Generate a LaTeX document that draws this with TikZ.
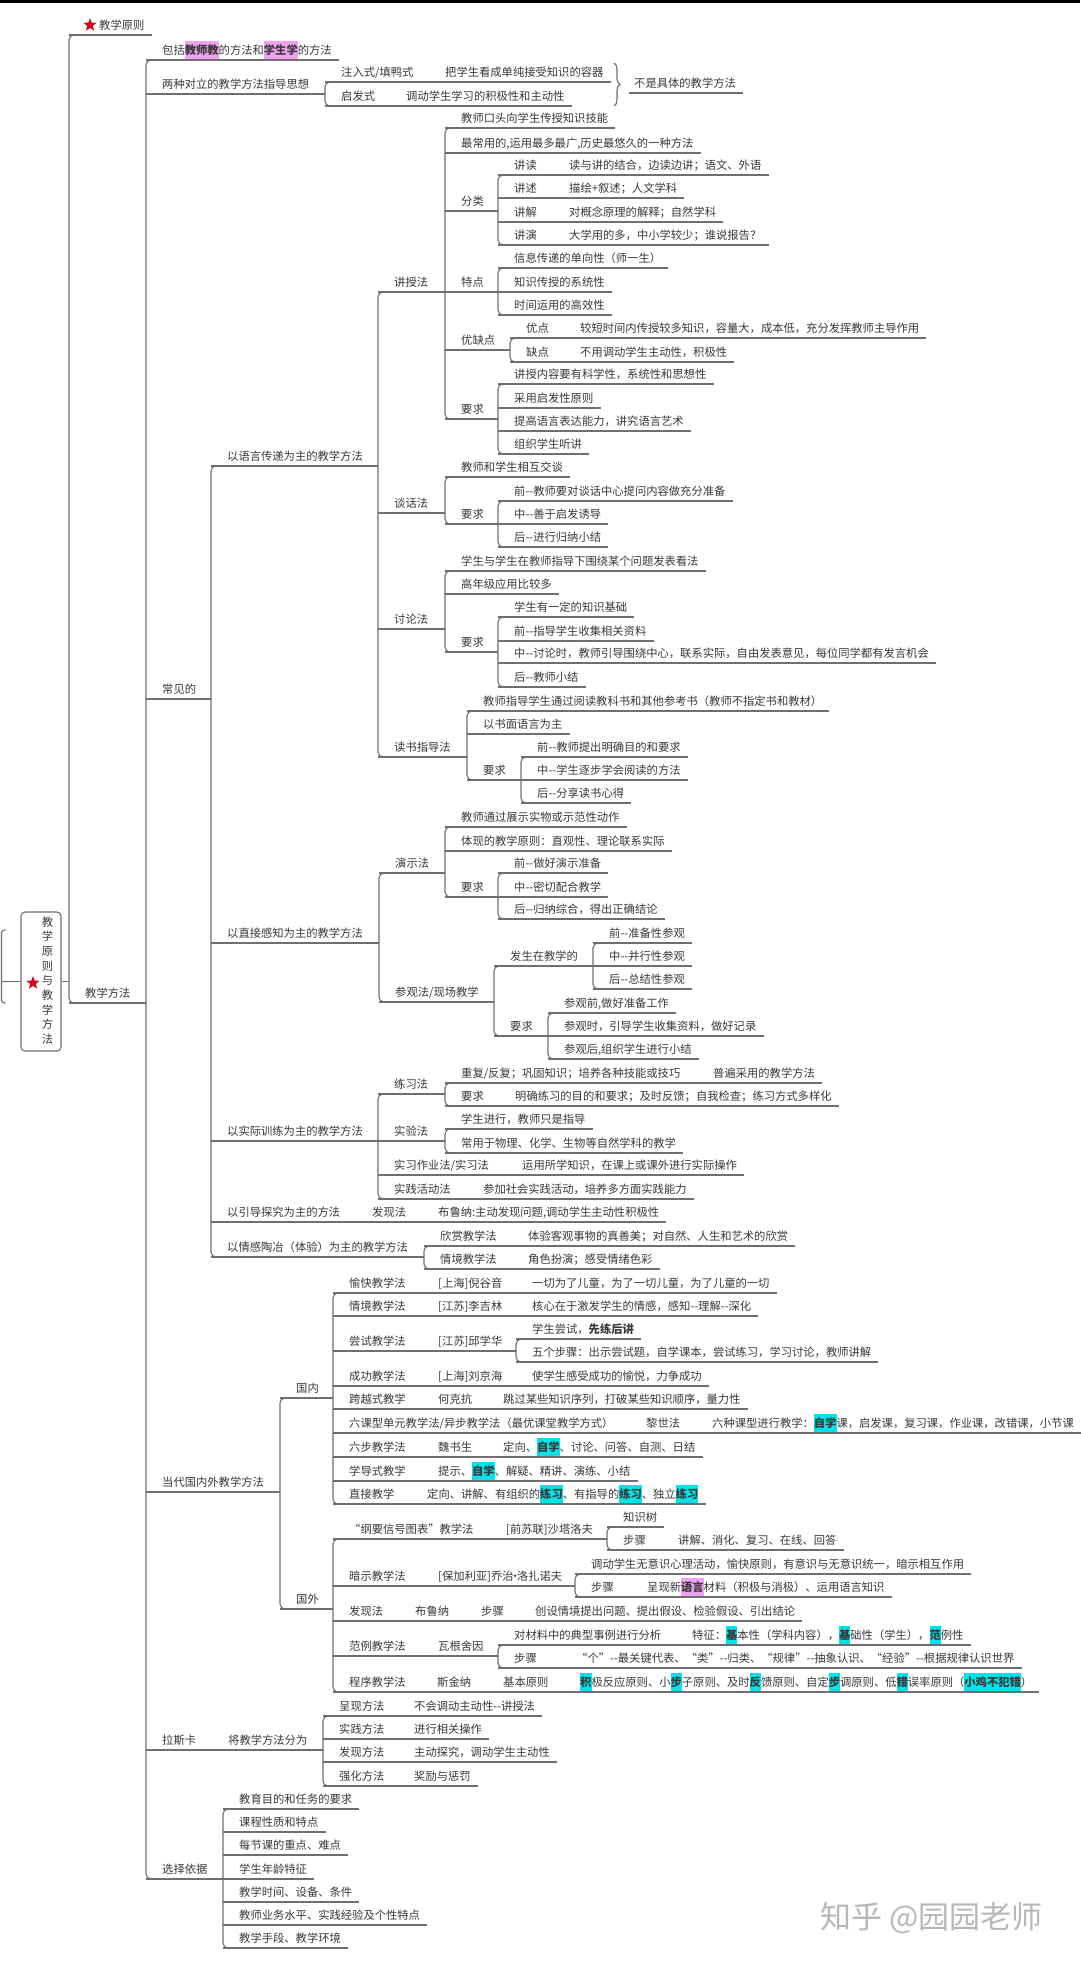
\documentclass[tikz,border=0pt]{standalone}
\usepackage{fontspec}
\newfontfamily\cjk{Noto Sans CJK SC}[Ligatures=TeXOff]
\usetikzlibrary{calc,shapes.geometric,decorations.pathreplacing}
\definecolor{mapgray}{HTML}{6F6F6F}
\definecolor{mapink}{HTML}{383838}
\definecolor{hlpink}{HTML}{EFA3EF}
\definecolor{hlcyan}{HTML}{00E3EA}
\definecolor{starred}{HTML}{CC0A1E}
\tikzset{maptext/.style={anchor=base west,inner sep=0pt,text=mapink,font=\cjk\fontsize{11.3}{13}\selectfont},mapline/.style={draw=mapgray,line width=1.1pt},maproot/.style={draw=mapgray,line width=1.1pt,rounded corners=4pt,minimum width=40pt,minimum height=139pt,inner sep=0pt},mapstar/.style={star,star points=5,star point ratio=2.4,fill=starred,inner sep=0pt,minimum size=14pt}}
\newcommand\hl[2]{{\setlength\fboxsep{0pt}\colorbox{#1}{\rule[-6pt]{0pt}{19pt}\textbf{#2}}}}
\newcommand\mtopic[5][16]{%
  \node[maptext] (#2) at (#3+#1,#4-6) {#5};
  \coordinate (#2-l) at (#3,#4);
  \coordinate (#2-r) at ($(#2.base east)+(7,6)$);
  \draw[mapline] (#2-l) -- (#2-r);}
\newcommand\mkids[3]{%
  \draw[mapline] (#1-r) -- (#1-r -| #2-l);
  \draw[mapline,rounded corners=5pt] ($(#2-l)+(10,0)$) -- (#2-l) -- (#3-l) -- ($(#3-l)+(10,0)$);}
\newcommand\mone[2]{\draw[mapline] (#1-r) -- (#2-l);}
\begin{document}
\begin{tikzpicture}[x=1pt,y=-1pt]
\fill[white] (0,0) rectangle (1080,1962);
\useasboundingbox (0,0) rectangle (1080,1962);
\fill[black] (0,0) rectangle (1080,3);
\node[maproot] (root) at (41,981.5) {};
\node[maptext,anchor=center,align=center,font=\cjk\fontsize{11.3}{14.7}\selectfont] (roottx) at (47.5,980.5) {教\\学\\原\\则\\与\\教\\学\\方\\法};
\node[mapstar] (rstar) at (33,983) {};
\coordinate (lt) at (1.5,930);
\coordinate (lb) at (1.5,1003);
\draw[mapline,rounded corners=3pt] ($(lt)+(4,0)$) -- (lt) -- (lb) -- ($(lb)+(4,0)$);
\draw[mapline] (root.west) -- (root.west -| lt);
\mtopic[30]{yz}{69}{35}{教学原则}
\node[mapstar] (s1) at (90,25) {};
\mtopic{jf}{69}{1003}{教学方法}
\draw[mapline] (root.east) -- (root.east -| yz-l);
\draw[mapline,rounded corners=5pt] ($(yz-l)+(10,0)$) -- (yz-l) -- (jf-l) -- ($(jf-l)+(10,0)$);
\mtopic{bk}{146}{60}{包括\hl{hlpink}{教师教}的方法和\hl{hlpink}{学生学}的方法}
\mtopic{lz}{146}{94}{两种对立的教学方法指导思想}
\mtopic{cj}{146}{699}{常见的}
\mtopic{dd}{146}{1492}{当代国内外教学方法}
\mtopic{ls}{146}{1750}{拉斯卡}
\mtopic{xz}{146}{1879}{选择依据}
\mtopic{zr}{325}{82}{注入式/填鸭式}
\mtopic{zr1}{429}{82}{把学生看成单纯接受知识的容器}
\mtopic{qf}{325}{106}{启发式}
\mtopic{qf1}{390}{106}{调动学生学习的积极性和主动性}
\coordinate (bt) at (614,63);
\coordinate (bb) at (614,106);
\draw[mapline,decorate,decoration={brace,amplitude=6pt}] (bt) -- (bb);
\mtopic[5]{bs}{629}{93}{不是具体的教学方法}
\mtopic{yy}{211}{466}{以语言传递为主的教学方法}
\mtopic{zj}{211}{943}{以直接感知为主的教学方法}
\mtopic{sj}{211}{1141}{以实际训练为主的教学方法}
\mtopic{yd}{211}{1222}{以引导探究为主的方法}
\mtopic{qg}{211}{1257}{以情感陶冶（体验）为主的教学方法}
\mtopic{js}{378}{292}{讲授法}
\mtopic{th}{378}{513}{谈话法}
\mtopic{tl}{378}{629}{讨论法}
\mtopic{ds}{378}{757}{读书指导法}
\mtopic{js1}{445}{128}{教师口头向学生传授知识技能}
\mtopic{js2}{445}{153}{最常用的,运用最多最广,历史最悠久的一种方法}
\mtopic{fl}{445}{211}{分类}
\mtopic{td}{445}{292}{特点}
\mtopic{yq}{445}{350}{优缺点}
\mtopic{jsr}{445}{419}{要求}
\mtopic{jd}{498}{175}{讲读}
\mtopic{jd1}{553}{175}{读与讲的结合，边读边讲；语文、外语}
\mtopic{jx}{498}{198}{讲述}
\mtopic{jx1}{553}{198}{描绘+叙述；人文学科}
\mtopic{jj}{498}{222}{讲解}
\mtopic{jj1}{553}{222}{对概念原理的解释；自然学科}
\mtopic{jy}{498}{245}{讲演}
\mtopic{jy1}{553}{245}{大学用的多，中小学较少；谁说报告？}
\mtopic{td1}{498}{268}{信息传递的单向性（师一生）}
\mtopic{td2}{498}{292}{知识传授的系统性}
\mtopic{td3}{498}{315}{时间运用的高效性}
\mtopic{yd1}{510}{338}{优点}
\mtopic{yd1a}{564}{338}{较短时间内传授较多知识，容量大，成本低，充分发挥教师主导作用}
\mtopic{qd}{510}{362}{缺点}
\mtopic{qd1}{564}{362}{不用调动学生主动性，积极性}
\mtopic{jsr1}{498}{384}{讲授内容要有科学性，系统性和思想性}
\mtopic{jsr2}{498}{408}{采用启发性原则}
\mtopic{jsr3}{498}{431}{提高语言表达能力，讲究语言艺术}
\mtopic{jsr4}{498}{454}{组织学生听讲}
\mtopic{th1}{445}{477}{教师和学生相互交谈}
\mtopic{thr}{445}{524}{要求}
\mtopic{thr1}{498}{501}{前--教师要对谈话中心提问内容做充分准备}
\mtopic{thr2}{498}{524}{中--善于启发诱导}
\mtopic{thr3}{498}{547}{后--进行归纳小结}
\mtopic{tl1}{445}{571}{学生与学生在教师指导下围绕某个问题发表看法}
\mtopic{tl2}{445}{594}{高年级应用比较多}
\mtopic{tlr}{445}{652}{要求}
\mtopic{tlr1}{498}{617}{学生有一定的知识基础}
\mtopic{tlr2}{498}{641}{前--指导学生收集相关资料}
\mtopic{tlr3}{498}{663}{中--讨论时，教师引导围绕中心，联系实际，自由发表意见，每位同学都有发言机会}
\mtopic{tlr4}{498}{687}{后--教师小结}
\mtopic{ds1}{467}{711}{教师指导学生通过阅读教科书和其他参考书（教师不指定书和教材）}
\mtopic{ds2}{467}{734}{以书面语言为主}
\mtopic{dsr}{467}{780}{要求}
\mtopic{dsr1}{521}{757}{前--教师提出明确目的和要求}
\mtopic{dsr2}{521}{780}{中--学生逐步学会阅读的方法}
\mtopic{dsr3}{521}{803}{后--分享读书心得}
\mtopic{ys}{379}{873}{演示法}
\mtopic{cg}{379}{1002}{参观法/现场教学}
\mtopic{ys1}{445}{827}{教师通过展示实物或示范性动作}
\mtopic{ys2}{445}{851}{体现的教学原则：直观性、理论联系实际}
\mtopic{ysr}{445}{897}{要求}
\mtopic{ysr1}{498}{873}{前--做好演示准备}
\mtopic{ysr2}{498}{897}{中--密切配合教学}
\mtopic{ysr3}{498}{919}{后--归纳综合，得出正确结论}
\mtopic{cgf}{494}{966}{发生在教学的}
\mtopic{cgr}{494}{1036}{要求}
\mtopic{cgf1}{593}{943}{前--准备性参观}
\mtopic{cgf2}{593}{966}{中--并行性参观}
\mtopic{cgf3}{593}{989}{后--总结性参观}
\mtopic{cgr1}{548}{1013}{参观前,做好准备工作}
\mtopic{cgr2}{548}{1036}{参观时，引导学生收集资料，做好记录}
\mtopic{cgr3}{548}{1059}{参观后,组织学生进行小结}
\mtopic{lx}{378}{1094}{练习法}
\mtopic{sy}{378}{1141}{实验法}
\mtopic{sx}{378}{1175}{实习作业法/实习法}
\mtopic{sh}{378}{1199}{实践活动法}
\mtopic{lx1}{445}{1083}{重复/反复；巩固知识；培养各种技能或技巧}
\mtopic{lx1a}{697}{1083}{普遍采用的教学方法}
\mtopic{lxr}{445}{1106}{要求}
\mtopic{lxr1}{499}{1106}{明确练习的目的和要求；及时反馈；自我检查；练习方式多样化}
\mtopic{sy1}{445}{1129}{学生进行，教师只是指导}
\mtopic{sy2}{445}{1153}{常用于物理、化学、生物等自然学科的教学}
\mtopic{sx1}{506}{1175}{运用所学知识，在课上或课外进行实际操作}
\mtopic{sh1}{467}{1199}{参加社会实践活动，培养多方面实践能力}
\mtopic{fx}{356}{1222}{发现法}
\mtopic{fx1}{422}{1222}{布鲁纳:主动发现问题,调动学生主动性积极性}
\mtopic{xs}{424}{1246}{欣赏教学法}
\mtopic{xs1}{512}{1246}{体验客观事物的真善美；对自然、人生和艺术的欣赏}
\mtopic{qj}{424}{1269}{情境教学法}
\mtopic{qj1}{512}{1269}{角色扮演；感受情绪色彩}
\mtopic{gn}{280}{1398}{国内}
\mtopic{gw}{280}{1609}{国外}
\mtopic{yk}{333}{1293}{愉快教学法}
\mtopic{yk1}{422}{1293}{[上海]倪谷音}
\mtopic{yk2}{516}{1293}{一切为了儿童，为了一切儿童，为了儿童的一切}
\mtopic{qjj}{333}{1316}{情境教学法}
\mtopic{qjj1}{422}{1316}{[江苏]李吉林}
\mtopic{qjj2}{516}{1316}{核心在于激发学生的情感，感知--理解--深化}
\mtopic{cs}{333}{1351}{尝试教学法}
\mtopic{cs1}{422}{1351}{[江苏]邱学华}
\mtopic{cs1a}{516}{1339}{学生尝试，\textbf{先练后讲}}
\mtopic{cs1b}{516}{1362}{五个步骤：出示尝试题，自学课本，尝试练习，学习讨论，教师讲解}
\mtopic{cgg}{333}{1386}{成功教学法}
\mtopic{cgg1}{422}{1386}{[上海]刘京海}
\mtopic{cgg2}{516}{1386}{使学生感受成功的愉悦，力争成功}
\mtopic{ky}{333}{1409}{跨越式教学}
\mtopic{ky1}{422}{1409}{何克抗}
\mtopic{ky2}{487}{1409}{跳过某些知识序列，打破某些知识顺序，量力性}
\mtopic{lk}{333}{1433}{六课型单元教学法/异步教学法（最优课堂教学方式）}
\mtopic{lk1}{630}{1433}{黎世法}
\mtopic{lk2}{696}{1433}{六种课型进行教学：\hl{hlcyan}{自学}课，启发课，复习课，作业课，改错课，小节课}
\mtopic{lb}{333}{1457}{六步教学法}
\mtopic{lb1}{422}{1457}{魏书生}
\mtopic{lb2}{487}{1457}{定向、\hl{hlcyan}{自学}、讨论、问答、自测、日结}
\mtopic{xd}{333}{1481}{学导式教学}
\mtopic{xd1}{422}{1481}{提示、\hl{hlcyan}{自学}、解疑、精讲、演练、小结}
\mtopic{zjj}{333}{1504}{直接教学}
\mtopic{zjj1}{411}{1504}{定向、讲解、有组织的\hl{hlcyan}{练习}、有指导的\hl{hlcyan}{练习}、独立\hl{hlcyan}{练习}}
\mtopic{gy}{333}{1539}{“纲要信号图表”教学法}
\mtopic{gy1}{490}{1539}{[前苏联]沙塔洛夫}
\mtopic{gyz}{607}{1527}{知识树}
\mtopic{gyb}{607}{1550}{步骤}
\mtopic{gyb1}{662}{1550}{讲解、消化、复习、在线、回答}
\mtopic{as}{333}{1586}{暗示教学法}
\mtopic{as1}{422}{1586}{[保加利亚]乔治\kern-4pt·\kern-4pt洛扎诺夫}
\mtopic{as1a}{575}{1574}{调动学生无意识心理活动，愉快原则，有意识与无意识统一，暗示相互作用}
\mtopic{as1b}{575}{1597}{步骤}
\mtopic{as1c}{631}{1597}{呈现新\hl{hlpink}{语言}材料（积极与消极）、运用语言知识}
\mtopic{fxf}{333}{1621}{发现法}
\mtopic{fxf1}{399}{1621}{布鲁纳}
\mtopic{fxf2}{465}{1621}{步骤}
\mtopic{fxf3}{519}{1621}{创设情境提出问题、提出假设、检验假设、引出结论}
\mtopic{fl2}{333}{1656}{范例教学法}
\mtopic{fl2a}{422}{1656}{瓦根舍因}
\mtopic{fl2b}{498}{1645}{对材料中的典型事例进行分析}
\mtopic{fl2c}{676}{1645}{特征：\hl{hlcyan}{基}本性（学科内容），\hl{hlcyan}{基}础性（学生），\hl{hlcyan}{范}例性}
\mtopic{fl2d}{498}{1668}{步骤}
\mtopic{fl2e}{560}{1668}{“个”--最关键代表、“类”--归类、“规律”--抽象认识、“经验”--根据规律认识世界}
\mtopic{cx}{333}{1692}{程序教学法}
\mtopic{cx1}{421}{1692}{斯金纳}
\mtopic{cx2}{487}{1692}{基本原则}
\mtopic{cx3}{564}{1692}{\hl{hlcyan}{积}极反应原则、小\hl{hlcyan}{步}子原则、及时\hl{hlcyan}{反}馈原则、自定\hl{hlcyan}{步}调原则、低\hl{hlcyan}{错}误率原则（\hl{hlcyan}{小鸡不犯错}）}
\mtopic{jfa}{212}{1750}{将教学方法分为}
\mtopic{cxf}{323}{1716}{呈现方法}
\mtopic{cxf1}{398}{1716}{不会调动主动性--讲授法}
\mtopic{sjf}{323}{1739}{实践方法}
\mtopic{sjf1}{398}{1739}{进行相关操作}
\mtopic{fxm}{323}{1762}{发现方法}
\mtopic{fxm1}{398}{1762}{主动探究，调动学生主动性}
\mtopic{qhf}{323}{1786}{强化方法}
\mtopic{qhf1}{398}{1786}{奖励与惩罚}
\mtopic{xz1}{223}{1809}{教育目的和任务的要求}
\mtopic{xz2}{223}{1832}{课程性质和特点}
\mtopic{xz3}{223}{1855}{每节课的重点、难点}
\mtopic{xz4}{223}{1879}{学生年龄特征}
\mtopic{xz5}{223}{1902}{教学时间、设备、条件}
\mtopic{xz6}{223}{1925}{教师业务水平、实践经验及个性特点}
\mtopic{xz7}{223}{1948}{教学手段、教学环境}
\foreach \p/\f/\l in {jf/bk/xz,lz/zr/qf,cj/yy/qg,yy/js/ds,js/js1/jsr,fl/jd/jy,td/td1/td3,yq/yd1/qd,jsr/jsr1/jsr4,th/th1/thr,thr/thr1/thr3,tl/tl1/tlr,tlr/tlr1/tlr4,ds/ds1/dsr,dsr/dsr1/dsr3,zj/ys/cg,ys/ys1/ysr,ysr/ysr1/ysr3,cg/cgf/cgr,cgf/cgf1/cgf3,cgr/cgr1/cgr3,sj/lx/sh,lx/lx1/lxr,sy/sy1/sy2,qg/xs/qj,dd/gn/gw,gn/yk/zjj,cs1/cs1a/cs1b,gw/gy/cx,gy1/gyz/gyb,as1/as1a/as1b,fl2a/fl2b/fl2d,jfa/cxf/qhf,xz/xz1/xz7} \mkids{\p}{\f}{\l};
\foreach \a/\b in {ls/jfa,zr/zr1,qf/qf1,jd/jd1,jx/jx1,jj/jj1,jy/jy1,yd1/yd1a,qd/qd1,lx1/lx1a,lxr/lxr1,sx/sx1,sh/sh1,yd/fx,fx/fx1,xs/xs1,qj/qj1,yk/yk1,yk1/yk2,qjj/qjj1,qjj1/qjj2,cs/cs1,cgg/cgg1,cgg1/cgg2,ky/ky1,ky1/ky2,lk/lk1,lk1/lk2,lb/lb1,lb1/lb2,xd/xd1,zjj/zjj1,gy/gy1,gyb/gyb1,as/as1,as1b/as1c,fxf/fxf1,fxf1/fxf2,fxf2/fxf3,fl2/fl2a,fl2b/fl2c,fl2d/fl2e,cx/cx1,cx1/cx2,cx2/cx3,cxf/cxf1,sjf/sjf1,fxm/fxm1,qhf/qhf1} \mone{\a}{\b};
\node[anchor=base west,inner sep=0pt,text=black!28,font=\cjk\fontsize{31}{33}\selectfont] (wm) at (820,1928) {知乎 @园园老师};
\end{tikzpicture}
\end{document}
